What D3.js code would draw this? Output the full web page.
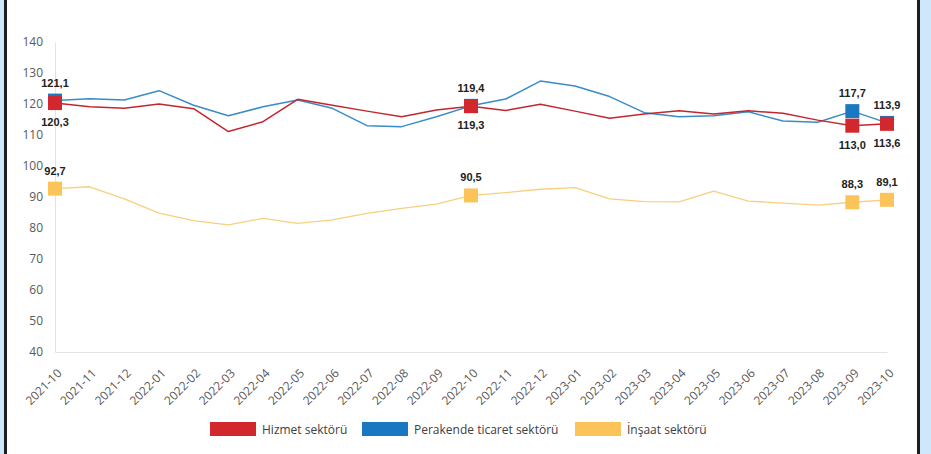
<!DOCTYPE html>
<html>
<head>
<meta charset="utf-8">
<script src="https://cdn.jsdelivr.net/npm/d3@7"></script>
<style>
  html, body { margin: 0; padding: 0; background: #fff; }
  svg { display: block; }
</style>
</head>
<body>
<div id="chart"></div>
<script>
// months on the x axis
const months = ['2021-10','2021-11','2021-12','2022-01','2022-02','2022-03','2022-04','2022-05',
  '2022-06','2022-07','2022-08','2022-09','2022-10','2022-11','2022-12','2023-01','2023-02',
  '2023-03','2023-04','2023-05','2023-06','2023-07','2023-08','2023-09','2023-10'];

// Hizmet sektoru (services)
const hizmet = [120.3,119.1,118.6,120.0,118.5,111.1,114.3,121.5,119.6,117.7,115.9,118.1,119.3,
  117.9,119.9,117.7,115.4,116.8,117.8,116.8,117.8,117.0,114.8,113.0,113.6];
// Perakende ticaret sektoru (retail)
const perakende = [121.1,121.7,121.3,124.3,119.6,116.2,119.1,121.3,118.6,113.0,112.7,115.9,119.4,
  121.6,127.4,125.8,122.4,117.2,115.9,116.2,117.5,114.5,114.1,117.7,113.9];
// Insaat sektoru (construction)
const insaat = [92.7,93.3,89.4,84.8,82.4,81.0,83.1,81.5,82.6,84.7,86.3,87.7,90.5,
  91.4,92.5,93.0,89.4,88.5,88.4,91.9,88.7,88.0,87.4,88.3,89.1];

// indices that carry a square marker and a value label
const markedIdx = [0, 12, 23, 24];
const yTicks = [40, 50, 60, 70, 80, 90, 100, 110, 120, 130, 140];

const series = [
  { name: 'İnşaat sektörü', values: insaat, line: '#f9cf7f', fill: '#fcc458', lw: 1.3, labelPos: 'above' },
  { name: 'Perakende ticaret sektörü', values: perakende, line: '#3a8cc6', fill: '#1a78c2', lw: 1.5, labelPos: 'above' },
  { name: 'Hizmet sektörü', values: hizmet, line: '#c4262e', fill: '#d2272d', lw: 1.5, labelPos: 'below' }
];
// legend order differs from draw order
const legendOrder = ['Hizmet sektörü', 'Perakende ticaret sektörü', 'İnşaat sektörü'];

const W = 931, H = 454;
const M = { left: 55, right: 887, top: 42, bottom: 352 };

const svg = d3.select('#chart').append('svg')
  .attr('width', W).attr('height', H);

// frame strips left / right
svg.append('rect').attr('x', 0).attr('y', 0).attr('width', 4).attr('height', H).attr('fill', '#cfe7fb');
svg.append('rect').attr('x', 4).attr('y', 0).attr('width', 3).attr('height', H).attr('fill', '#1e1e1e');
svg.append('rect').attr('x', 917).attr('y', 0).attr('width', 3).attr('height', H).attr('fill', '#1e1e1e');
svg.append('rect').attr('x', 920).attr('y', 0).attr('width', 11).attr('height', H).attr('fill', '#cfe7fb');

const x = d3.scalePoint().domain(months).range([M.left, M.right]);
const y = d3.scaleLinear().domain([40, 140]).range([M.bottom, M.top]);

// y axis
const yAxis = svg.append('g')
  .attr('transform', `translate(${M.left},0)`)
  .call(d3.axisLeft(y).tickValues(yTicks).tickSize(0).tickPadding(12));
yAxis.select('.domain').attr('stroke', '#e3e3e3');
yAxis.selectAll('text')
  .attr('font-family', '"Open Sans", sans-serif').attr('font-size', 12).attr('fill', '#595959');

// x axis
const xAxis = svg.append('g')
  .attr('transform', `translate(0,${M.bottom})`)
  .call(d3.axisBottom(x).tickSize(0));
xAxis.select('.domain').attr('stroke', '#e3e3e3');
xAxis.selectAll('text')
  .attr('font-family', '"Open Sans", sans-serif').attr('font-size', 12).attr('fill', '#595959')
  .attr('text-anchor', 'end')
  .attr('dy', 0)
  .attr('y', 0)
  .attr('transform', 'translate(7,22) rotate(-45)');

const line = d3.line()
  .x((d, i) => x(months[i]))
  .y(d => y(d));

const SQ = 14;

series.forEach(s => {
  const g = svg.append('g');
  g.append('path')
    .attr('d', line(s.values))
    .attr('fill', 'none')
    .attr('stroke', s.line)
    .attr('stroke-width', s.lw)
    .attr('stroke-linejoin', 'round');

  g.selectAll('rect')
    .data(markedIdx)
    .join('rect')
    .attr('x', i => x(months[i]) - SQ / 2)
    .attr('y', i => y(s.values[i]) - SQ / 2)
    .attr('width', SQ).attr('height', SQ)
    .attr('fill', s.fill);
});

// value labels on top of everything
series.forEach(s => {
  svg.append('g').selectAll('text')
    .data(markedIdx)
    .join('text')
    .attr('x', i => x(months[i]))
    .attr('y', i => s.labelPos === 'above' ? y(s.values[i]) - 14 : y(s.values[i]) + 23)
    .attr('text-anchor', 'middle')
    .attr('font-family', '"Liberation Sans", Arial, sans-serif')
    .attr('font-weight', 'bold')
    .attr('font-size', 11)
    .attr('fill', '#222')
    .text(i => d3.format('.1f')(s.values[i]).replace('.', ','));
});

// legend
const legendX = { 'Hizmet sektörü': 210, 'Perakende ticaret sektörü': 362, 'İnşaat sektörü': 575 };
const lg = svg.append('g');
legendOrder.forEach(name => {
  const s = series.find(d => d.name === name);
  const lx = legendX[name];
  lg.append('rect')
    .attr('x', lx).attr('y', 422).attr('width', 46).attr('height', 14)
    .attr('fill', s.fill);
  lg.append('text')
    .attr('x', lx + 52).attr('y', 433.5)
    .attr('font-family', '"Open Sans", sans-serif').attr('font-size', 12)
    .attr('fill', '#404040')
    .text(name);
});
</script>
</body>
</html>
